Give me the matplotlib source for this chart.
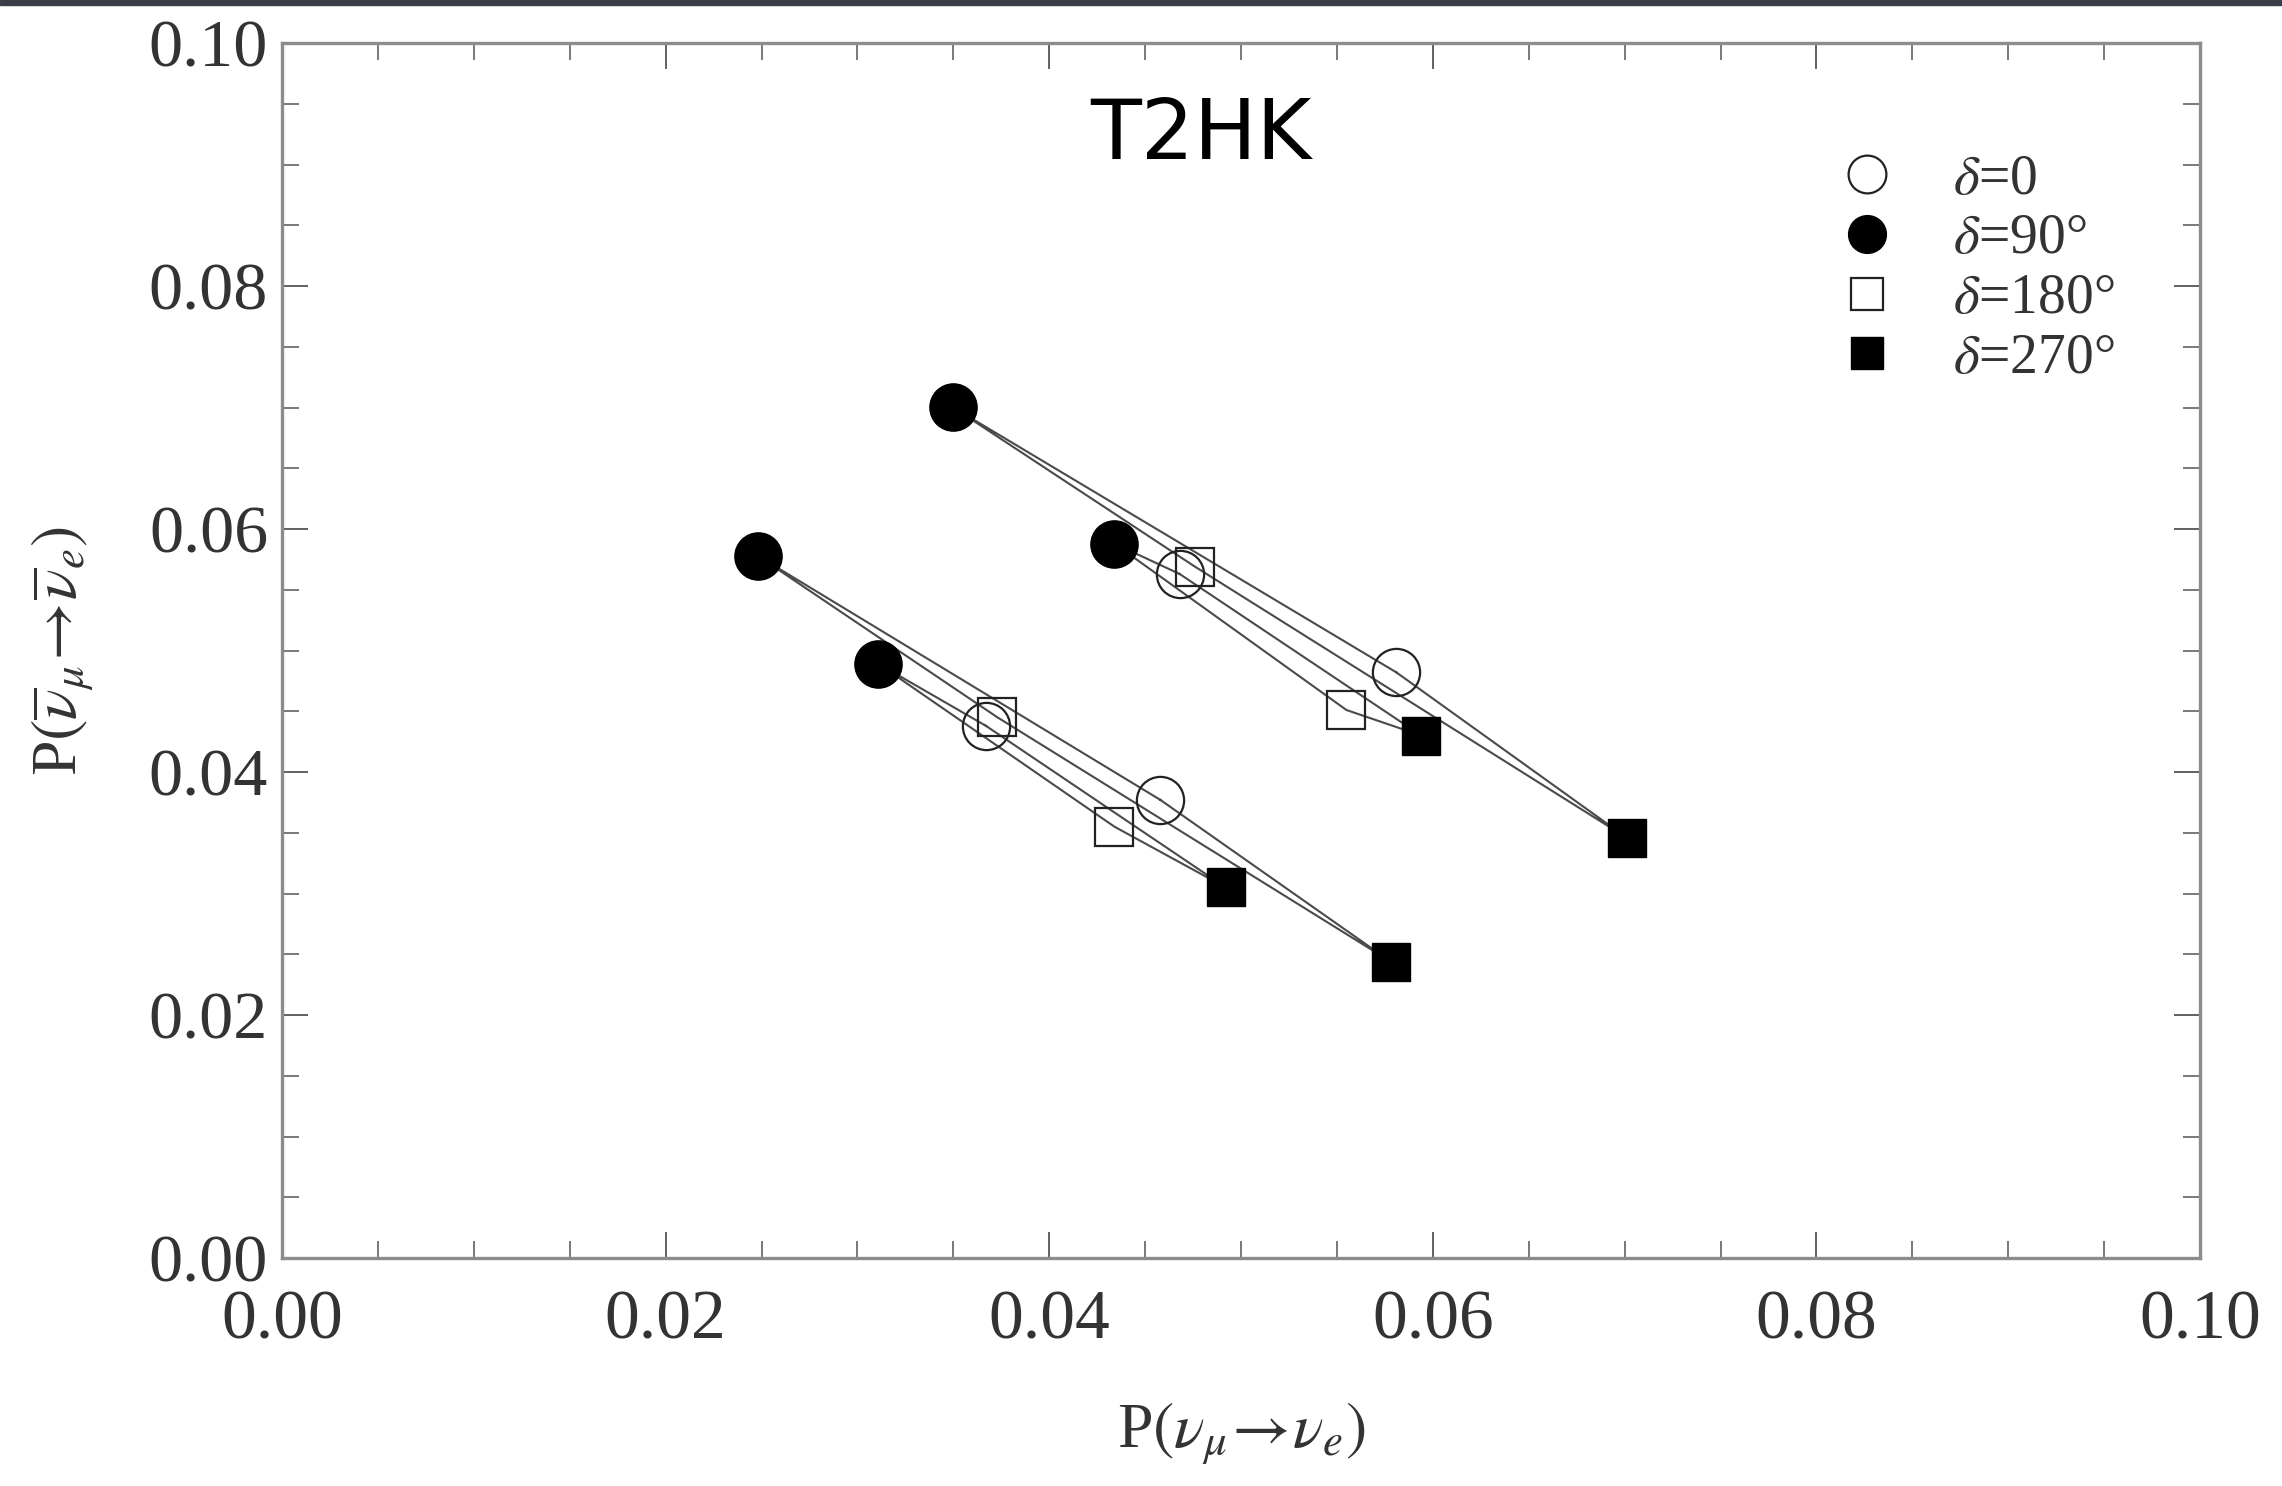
import matplotlib
matplotlib.use("Agg")
import matplotlib.pyplot as plt
from matplotlib.ticker import MultipleLocator, FormatStrFormatter

# ---- data ----
# four closed curves: upper-outer, upper-inner, lower-outer, lower-inner
curves = ["upper outer", "upper inner", "lower outer", "lower inner"]
delta_labels = [r"$\delta$=0", r"$\delta$=90°", r"$\delta$=180°", r"$\delta$=270°"]

p_nu_d0       = [0.0581, 0.0468, 0.0458, 0.0367]
p_nubar_d0    = [0.0482, 0.0563, 0.0377, 0.0438]
p_nu_d90      = [0.0350, 0.0434, 0.0248, 0.0311]
p_nubar_d90   = [0.0700, 0.0588, 0.0578, 0.0489]
p_nu_d180     = [0.0476, 0.0555, 0.0373, 0.0434]
p_nubar_d180  = [0.0569, 0.0451, 0.0445, 0.0355]
p_nu_d270     = [0.0701, 0.0594, 0.0578, 0.0492]
p_nubar_d270  = [0.0346, 0.0430, 0.0244, 0.0305]

x_ticks = [0.00, 0.02, 0.04, 0.06, 0.08, 0.10]
y_ticks = [0.00, 0.02, 0.04, 0.06, 0.08, 0.10]

# ---- style ----
plt.rcParams['font.family'] = ['Liberation Serif', 'DejaVu Serif']
plt.rcParams['mathtext.fontset'] = 'stix'

W, H = 2282, 1486
fig = plt.figure(figsize=(W / 100, H / 100), dpi=100)
fig.patch.set_facecolor('white')
# thin dark strip along the top edge of the picture
fig.patches.append(plt.Rectangle((0, 1 - 5 / H), 1, 5 / H, transform=fig.transFigure,
                                 color='#3a3e48', zorder=10))

ax = fig.add_axes([282 / W, 1 - 1258 / H, (2200 - 282) / W, (1258 - 43) / H])

line_color = '#4a4a4a'
edge_dark = '#222222'

xs_all = [p_nu_d0, p_nu_d90, p_nu_d180, p_nu_d270]
ys_all = [p_nubar_d0, p_nubar_d90, p_nubar_d180, p_nubar_d270]

for k in range(len(curves)):
    xs = [s[k] for s in xs_all] + [xs_all[0][k]]
    ys = [s[k] for s in ys_all] + [ys_all[0][k]]
    ax.plot(xs, ys, color=line_color, lw=1.5, zorder=2)

styles = [
    dict(marker='o', ms=34, mfc='none', mec=edge_dark, mew=1.6),
    dict(marker='o', ms=34, mfc='black', mec='black', mew=1.0),
    dict(marker='s', ms=28, mfc='none', mec=edge_dark, mew=1.6),
    dict(marker='s', ms=28, mfc='black', mec='black', mew=1.0),
]
handles = []
for xs, ys, lab, st in zip(xs_all, ys_all, delta_labels, styles):
    h, = ax.plot(xs, ys, ls='none', label=lab, zorder=3, **st)
    handles.append(h)

ax.set_xlim(0, 0.1)
ax.set_ylim(0, 0.1)
ax.set_xticks(x_ticks)
ax.set_yticks(y_ticks)
ax.xaxis.set_major_formatter(FormatStrFormatter('%.2f'))
ax.yaxis.set_major_formatter(FormatStrFormatter('%.2f'))
ax.xaxis.set_minor_locator(MultipleLocator(0.005))
ax.yaxis.set_minor_locator(MultipleLocator(0.005))

tick_col = '#555555'
ax.tick_params(which='both', direction='in', top=True, right=True, color=tick_col)
ax.tick_params(which='major', length=19, width=1.3)
ax.tick_params(which='minor', length=12, width=1.1)
ax.tick_params(axis='x', which='major', labelsize=50, pad=23, labelcolor='#333333')
ax.tick_params(axis='y', which='major', labelsize=49, pad=10, labelcolor='#333333')

for sp in ax.spines.values():
    sp.set_color('#8c8c8c')
    sp.set_linewidth(2.4)

ax.set_xlabel(r"P$(\nu_\mu\!\rightarrow\!\nu_e)$", fontsize=46, color='#333333', labelpad=34)
ax.set_ylabel(r"P$(\overline{\nu}_\mu\!\rightarrow\!\overline{\nu}_e)$", fontsize=46,
              color='#333333', labelpad=38)

ax.text(0.0479, 0.0924, "T2HK", fontsize=60, family='DejaVu Sans', ha='center',
        va='center', color='black')

leg = ax.legend(handles=handles, loc='upper left', bbox_to_anchor=(0.8118, 0.909),
                frameon=False, fontsize=40, markerscale=0.8, handlelength=1.0,
                handletextpad=1.05, labelspacing=0.14, borderpad=0, borderaxespad=0)
for t in leg.get_texts():
    t.set_color('#333333')

fig.savefig('out.png', dpi=100, facecolor='white')
